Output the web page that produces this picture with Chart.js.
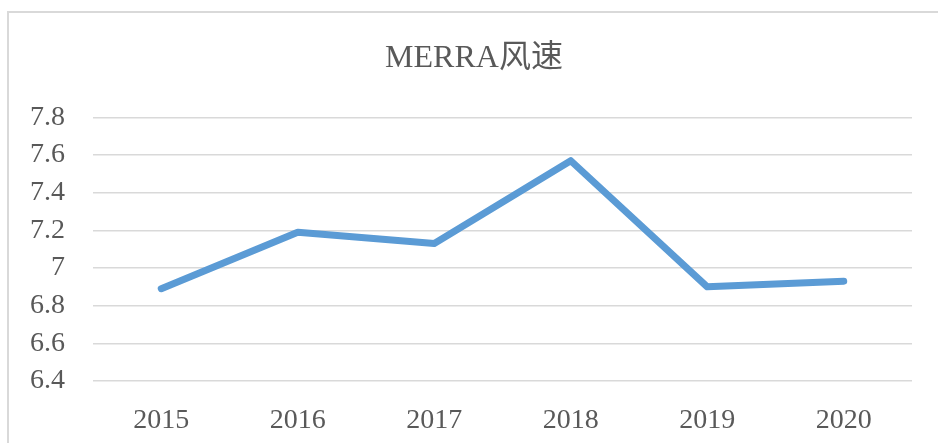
<!DOCTYPE html>
<html>
<head>
<meta charset="utf-8">
<script src="https://cdn.jsdelivr.net/npm/chart.js@4/dist/chart.umd.min.js"></script>
<style>
  body { margin: 0; background: #fff; overflow: hidden; width: 938px; height: 443px; position: relative; }
  #frame { position: absolute; left: 7px; top: 11px; width: 1000px; height: 500px; border-top: 2px solid #D9D9D9; border-left: 2px solid #D9D9D9; }
  #wrap { position: absolute; left: 0; top: 0; width: 938px; height: 443px; }
</style>
</head>
<body>
<div id="frame"></div>
<div id="wrap"><canvas id="wind"></canvas></div>
<script>
// data
const years = ['2015', '2016', '2017', '2018', '2019', '2020']
const windSpeed = [6.89, 7.19, 7.13, 7.57, 6.90, 6.93]
const yMin = 6.4
const yMax = 7.8
const yStep = 0.2

const serif = '"Liberation Serif", "Times New Roman", "Noto Sans CJK SC", serif'

// title in the reference sits a bit right of the canvas centre
const nudgeTitle = {
  id: 'nudgeTitle',
  afterLayout(chart) {
    if (chart.titleBlock) chart.titleBlock.left += 12
  }
}

const ctx = document.getElementById('wind').getContext('2d')
const windChart = new Chart(ctx, {
  type: 'line',
  data: {
    labels: years,
    datasets: [{
      label: 'MERRA风速',
      data: windSpeed,
      fill: false,
      borderColor: '#5B9BD5',
      borderWidth: 7,
      borderCapStyle: 'round',
      borderJoinStyle: 'round',
      pointRadius: 0,
      tension: 0
    }]
  },
  plugins: [nudgeTitle],
  options: {
    responsive: true,
    maintainAspectRatio: false,
    animation: false,
    layout: { padding: { left: 24, right: 26, top: 0, bottom: 13 } },
    plugins: {
      legend: { display: false },
      tooltip: { enabled: false },
      title: {
        display: true,
        text: 'MERRA风速',
        color: '#595959',
        font: { family: serif, size: 32, weight: 'normal' },
        padding: { top: 39, bottom: 40 }
      }
    },
    scales: {
      x: {
        offset: true,
        afterFit: scale => { scale.height = 49 },
        grid: { display: false },
        border: { display: false },
        ticks: {
          color: '#595959',
          font: { family: serif, size: 28 },
          padding: 15,
          maxRotation: 0,
          autoSkip: false
        }
      },
      y: {
        min: yMin,
        max: yMax,
        afterFit: scale => { scale.width = 69 },
        grid: { color: '#D9D9D9', lineWidth: 1.6, drawTicks: false },
        border: { display: false },
        ticks: {
          stepSize: yStep,
          autoSkip: false,
          color: '#595959',
          font: { family: serif, size: 28 },
          padding: 28,
          callback: v => Number(v.toFixed(1)).toString()
        }
      }
    }
  }
})
</script>
</body>
</html>
